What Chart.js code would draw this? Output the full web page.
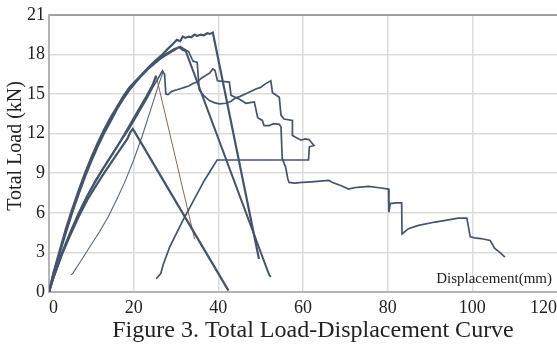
<!DOCTYPE html>
<html>
<head>
<meta charset="utf-8">
<script src="https://cdn.jsdelivr.net/npm/chart.js@4.4.0/dist/chart.umd.min.js"></script>
<style>
    html, body { margin: 0; padding: 0; background: #fff; overflow: hidden; }
</style>
</head>
<body>
<canvas id="loadChart" width="557" height="345"></canvas>
<script>
// Total load vs displacement, several specimens
const xTicks = [0, 20, 40, 60, 80, 100, 120];
const yTicks = [0, 3, 6, 9, 12, 15, 18, 21];

// specimen peaking at 19.6 kN
const peakHighX = [0, 1, 2.5, 4, 5.5, 7, 8.5, 10, 11.5, 13, 14.5, 16, 17.5, 19, 20.5, 22, 23.5, 25, 26.5, 28, 29, 29.6, 30.2, 31, 31.6, 32.2, 33, 33.6, 34.4, 35, 35.8, 36.6, 37.4, 38, 38.7, 49.6];
const peakHighY = [0, 1.4, 3.1, 4.8, 6.3, 7.7, 9, 10.2, 11.3, 12.3, 13.2, 14, 14.8, 15.5, 16.0, 16.5, 17.0, 17.5, 17.9, 18.4, 18.7, 18.9, 19.1, 19.0, 19.35, 19.25, 19.35, 19.3, 19.5, 19.4, 19.5, 19.45, 19.6, 19.55, 19.65, 2.5];

// specimen peaking at 18.5 kN, straight drop
const peakMidX = [0, 1, 2.5, 4, 5.5, 7, 8.5, 10, 11.5, 13, 14.5, 16, 17.5, 19, 20.5, 22, 23.5, 25, 26.5, 28, 29.5, 30.8, 31.5, 32.3, 52, 52.4];
const peakMidY = [0, 1.3, 2.9, 4.5, 6.0, 7.4, 8.7, 9.9, 11.0, 12.0, 12.9, 13.8, 14.6, 15.3, 15.9, 16.5, 17.0, 17.4, 17.8, 18.1, 18.4, 18.55, 18.35, 18.25, 1.3, 1.15];

// specimen with stepped softening and unloading path
const steppedX = [0, 1, 2.5, 4, 5.5, 7, 8.5, 10, 11.5, 13, 14.5, 16, 17.5, 19, 20.5, 22, 23.5, 25, 26.5, 28, 29.5, 31, 32, 33, 34, 35, 35.5, 36.5, 37.9, 39, 40.2, 41.8, 43, 44, 45, 46, 47, 48, 49, 50, 51, 52.4, 52.8, 54.4, 54.8, 55.5, 57.5, 57.5, 59.5, 60.5, 61.4, 62.6, 61.5, 61.3, 39.7, 36.7, 31.6, 28.5, 27, 26.4, 25.3];
const steppedY = [0, 1.35, 3.0, 4.65, 6.1, 7.5, 8.8, 10.0, 11.1, 12.1, 13.0, 13.9, 14.6, 15.3, 15.9, 16.4, 16.9, 17.3, 17.7, 18.0, 18.3, 18.6, 18.4, 18.2, 17.5, 17.4, 15.3, 14.9, 14.5, 14.35, 14.25, 14.3, 14.45, 14.7, 14.8, 14.95, 15.1, 15.25, 15.4, 15.5, 15.75, 16.0, 15.1, 14.75, 13.4, 13.1, 13.0, 11.85, 11.5, 11.6, 11.55, 11.1, 11.0, 10.0, 10.0, 8.45, 5.4, 3.4, 2.1, 1.4, 1.0];

// specimen with long residual tail to 108 mm
const longX = [0, 1, 3, 5, 7, 9, 11, 13, 15, 17, 19, 21, 23, 24.5, 25.8, 26.8, 27.3, 27.6, 28.1, 29, 30, 31, 32, 33, 34, 35, 36, 37, 38, 38.7, 39.2, 39.8, 41, 42.6, 43, 44, 45, 46.5, 47.5, 48.5, 49.3, 50.4, 50.8, 52, 53, 54.4, 54.8, 55.1, 55.9, 56.4, 56.7, 58, 59.8, 62, 64, 66.1, 67, 68.9, 70.8, 72, 73.5, 75.5, 78, 80.2, 80.3, 80.6, 82, 83.3, 83.4, 84.9, 87.3, 91.2, 94, 96.7, 98.7, 99.1, 99.5, 100.5, 102, 104.2, 105.3, 106.5, 107.7];
const longY = [0, 1.0, 2.85, 4.45, 5.95, 7.25, 8.45, 9.5, 10.5, 11.45, 12.4, 13.5, 14.6, 15.5, 16.2, 16.75, 16.5, 15.0, 14.95, 15.2, 15.3, 15.4, 15.5, 15.6, 15.8, 15.9, 16.2, 16.4, 16.6, 16.9, 16.8, 16.0, 15.95, 15.9, 14.9, 14.75, 14.6, 14.3, 14.35, 14.4, 13.2, 13.0, 12.6, 12.6, 12.75, 12.7, 12.5, 10.1, 9.45, 8.6, 8.3, 8.25, 8.3, 8.35, 8.4, 8.45, 8.3, 8.07, 7.8, 7.9, 7.95, 8.0, 7.9, 7.8, 6.05, 6.7, 6.75, 6.75, 4.4, 4.8, 5.05, 5.3, 5.45, 5.6, 5.6, 4.9, 4.2, 4.1, 4.05, 3.9, 3.3, 3.0, 2.65];

// specimen peaking at 12.3 kN
const peakLowX = [0, 1, 3, 5, 7, 9, 11, 13, 15, 17, 18.5, 19.2, 19.8, 20.2, 42.4];
const peakLowY = [0, 1.05, 2.8, 4.3, 5.7, 6.95, 8.0, 9.0, 9.95, 10.9, 11.6, 12.1, 12.35, 12.15, 0.1];

// specimen rising to 16.4 kN (drop drawn in brown)
const riseX = [0, 1, 3, 5, 7, 9, 11, 13, 15, 17, 19, 21, 23, 24.5, 25.3];
const riseY = [0, 1.05, 2.9, 4.5, 5.95, 7.25, 8.4, 9.45, 10.45, 11.5, 12.6, 13.7, 14.8, 15.7, 16.4];
const dropX = [25.3, 34.4];
const dropY = [16.4, 4.0];

// offset specimen starting at 5 mm
const offsetX = [5.2, 5.6, 6, 7, 8, 10, 12, 14, 16, 18, 20, 22, 24, 26, 27];
const offsetY = [1.3, 1.4, 1.6, 2.1, 2.6, 3.6, 4.6, 5.7, 7.0, 8.4, 10.0, 11.8, 13.8, 15.8, 16.7];

const SERIF = "'Liberation Serif', 'DejaVu Serif', serif";
const LINE = '#46546b';

function pts(xs, ys) {
    return xs.map((x, i) => ({ x: x, y: ys[i] }));
}

function curve(label, xs, ys, color, width) {
    return {
        label: label,
        data: pts(xs, ys),
        borderColor: color,
        borderWidth: width,
        showLine: true,
        pointRadius: 0,
        tension: 0,
        fill: false
    };
}

// caption under the chart and axis name inside the plot
const textPlugin = {
    id: 'figureText',
    afterDraw(chart) {
        const ctx = chart.ctx;
        const xs = chart.scales.x;
        ctx.save();
        ctx.fillStyle = '#222';
        ctx.font = '15px ' + SERIF;
        ctx.textAlign = 'right';
        ctx.textBaseline = 'alphabetic';
        ctx.fillText('Displacement(mm)', xs.right - 5, xs.top - 9);
        ctx.font = '24px ' + SERIF;
        ctx.textAlign = 'center';
        ctx.fillText('Figure 3. Total Load-Displacement Curve', 313, 337);
        ctx.restore();
    }
};

new Chart(document.getElementById('loadChart'), {
    type: 'scatter',
    data: {
        datasets: [
            curve('peakHigh', peakHighX, peakHighY, LINE, 2.2),
            curve('peakMid', peakMidX, peakMidY, LINE, 2),
            curve('stepped', steppedX, steppedY, LINE, 1.7),
            curve('long', longX, longY, LINE, 1.7),
            curve('peakLow', peakLowX, peakLowY, LINE, 2.2),
            curve('rise', riseX, riseY, LINE, 2.2),
            curve('drop', dropX, dropY, '#8a6656', 1),
            curve('offset', offsetX, offsetY, '#56667d', 1.1)
        ]
    },
    options: {
        responsive: false,
        animation: false,
        layout: { padding: { top: 14, right: 0, bottom: 0, left: 0 } },
        plugins: {
            legend: { display: false },
            tooltip: { enabled: false }
        },
        scales: {
            x: {
                type: 'linear',
                min: 0,
                max: 120,
                afterBuildTicks: (s) => { s.ticks = xTicks.map(v => ({ value: v })); },
                afterFit: (s) => { s.height = 53; },
                ticks: {
                    align: 'inner',
                    padding: 0,
                    maxRotation: 0,
                    color: '#222',
                    font: { family: SERIF, size: 18 }
                },
                grid: {
                    color: (c) => (c.tick && c.tick.value === 120) ? 'rgba(0,0,0,0)' : '#dcdcdc',
                    lineWidth: 1.5,
                    drawTicks: true,
                    tickLength: 5,
                    tickColor: 'rgba(0,0,0,0)'
                },
                border: { color: '#b4b4b4', width: 2 }
            },
            y: {
                min: 0,
                max: 21,
                afterBuildTicks: (s) => { s.ticks = yTicks.map(v => ({ value: v })); },
                afterFit: (s) => { s.width = 49; },
                ticks: {
                    padding: 4,
                    color: '#222',
                    font: { family: SERIF, size: 18 }
                },
                grid: {
                    color: (c) => (c.tick && c.tick.value === 21) ? '#a0a0a0' : '#dcdcdc',
                    lineWidth: (c) => (c.tick && c.tick.value === 21) ? 2 : 1.5,
                    drawTicks: false
                },
                border: { color: '#b4b4b4', width: 2 },
                title: {
                    display: true,
                    text: '   Total Load (kN)',
                    color: '#222',
                    font: { family: SERIF, size: 20 },
                    padding: { top: 4, bottom: 0 }
                }
            }
        }
    },
    plugins: [textPlugin]
});
</script>
</body>
</html>
